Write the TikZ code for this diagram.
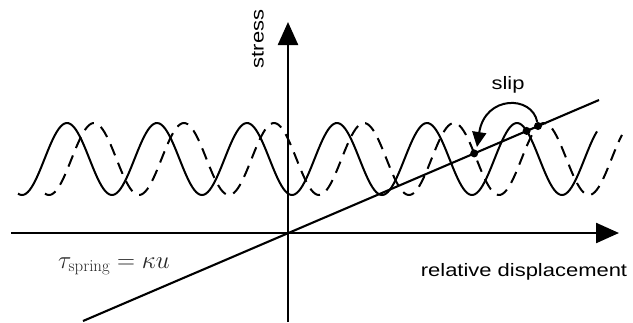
\documentclass[tikz,border=0pt]{standalone}
\usepackage{fontspec}
\newfontfamily\labfont[FakeStretch=1.22]{Liberation Sans}
\usetikzlibrary{arrows.meta}
\begin{document}
\begin{tikzpicture}[x=1pt,y=-1pt,
  axis/.style={line width=2.4pt,-{Triangle[length=23pt,width=20pt]}},
  wave/.style={line width=2pt},
  dwave/.style={line width=2pt,dash pattern=on 12pt off 8pt},
  springline/.style={line width=2.1pt},
  dot/.style={circle,fill=black,inner sep=0pt,minimum size=8pt},
  slipar/.style={line width=2pt,-{Triangle[length=15pt,width=14pt]}},
  lab/.style={font=\labfont\fontsize{18}{22}\selectfont,inner sep=0pt},
  mathlab/.style={font=\fontsize{24}{28}\selectfont,inner sep=0pt,text=black!85}]
\useasboundingbox (0,0) rectangle (633,322);
% axes
\coordinate (O) at (288,233);
\coordinate (xs) at (11,233);
\coordinate (xe) at (619,233);
\coordinate (ys) at (288,322);
\coordinate (ye) at (288,22);
\draw[axis] (xs) -- (xe);
\draw[axis] (ys) -- (ye);
% waves
\draw[wave] plot[domain=18:597,samples=300,smooth] (\x,{159-36*cos(4*(\x-67))});
\draw[dwave] plot[domain=45:622,samples=300,smooth] (\x,{159-36*cos(4*(\x-94))});
% spring line
\coordinate (ls) at (83,321);
\coordinate (le) at (599,100);
\draw[springline] (ls) -- (le);
% intersection dots
\node[dot] (d1) at (474.2,153.4) {};
\node[dot] (d2) at (526.6,130.9) {};
\node[dot] (d3) at (538,126) {};
% slip arrow
\coordinate (st) at (477,147);
\draw[slipar] (d3) .. controls (532,95) and (485,95) .. (st);
% labels
\node[lab,anchor=base] (slip) at (508,89) {slip};
\node[lab,rotate=90] (stress) at (258,39) {stress};
\node[lab,anchor=base] (rd) at (524,276) {relative displacement};
\node[mathlab,anchor=base] (tau) at (114,268) {$\tau_{\mathrm{spring}}=\kappa u$};
\end{tikzpicture}
\end{document}
